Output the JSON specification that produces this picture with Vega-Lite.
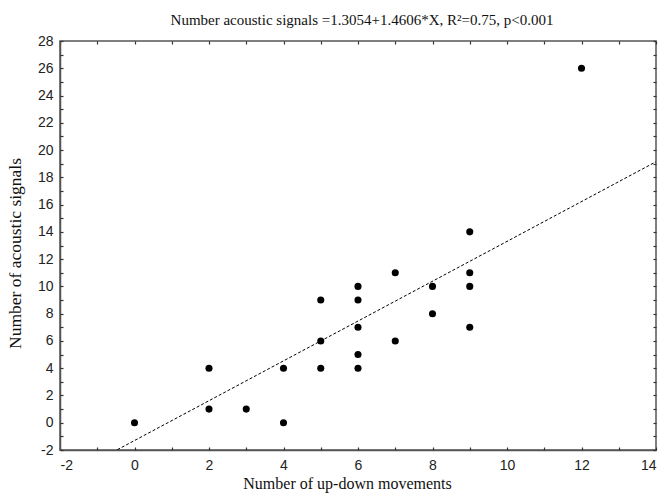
{
  "$schema": "https://vega.github.io/schema/vega-lite/v6.json",
  "width": 596,
  "height": 409,
  "autosize": "none",
  "padding": {"left": 60, "top": 41, "right": 4, "bottom": 46},
  "background": "white",
  "title": {
    "text": "Number acoustic signals =1.3054+1.4606*X, R²=0.75, p<0.001",
    "font": "Liberation Serif",
    "fontSize": 15,
    "fontWeight": "normal",
    "color": "#111",
    "anchor": "middle",
    "dx": 4,
    "offset": 6
  },
  "datasets": {
    "obs": [
      {"moves": 0, "signals": 0},
      {"moves": 2, "signals": 4},
      {"moves": 2, "signals": 1},
      {"moves": 3, "signals": 1},
      {"moves": 4, "signals": 4},
      {"moves": 4, "signals": 0},
      {"moves": 5, "signals": 9},
      {"moves": 5, "signals": 6},
      {"moves": 5, "signals": 4},
      {"moves": 6, "signals": 10},
      {"moves": 6, "signals": 9},
      {"moves": 6, "signals": 7},
      {"moves": 6, "signals": 5},
      {"moves": 6, "signals": 4},
      {"moves": 7, "signals": 11},
      {"moves": 7, "signals": 6},
      {"moves": 8, "signals": 10},
      {"moves": 8, "signals": 8},
      {"moves": 9, "signals": 14},
      {"moves": 9, "signals": 11},
      {"moves": 9, "signals": 10},
      {"moves": 9, "signals": 7},
      {"moves": 12, "signals": 26}
    ],
    "fit": [
      {"moves": -2, "signals": -4.2266},
      {"moves": 14, "signals": 19.143}
    ]
  },
  "config": {
    "view": {"stroke": "#555", "strokeWidth": 1.5},
    "axis": {
      "grid": false,
      "domainColor": "#555",
      "domainWidth": 1.5,
      "tickColor": "#333",
      "tickWidth": 1.2,
      "labelFont": "Liberation Sans",
      "labelFontSize": 14,
      "labelColor": "#222",
      "titleFont": "Liberation Serif",
      "titleFontSize": 17,
      "titleFontWeight": "normal",
      "titleColor": "#111",
      "labelOverlap": false
    }
  },
  "resolve": {"axis": {"x": "independent", "y": "independent"}},
  "layer": [
    {
      "data": {"name": "obs"},
      "mark": {"type": "point", "filled": true, "shape": "circle", "size": 50, "color": "black", "opacity": 1},
      "encoding": {
        "x": {
          "field": "moves", "type": "quantitative",
          "scale": {"domain": [-2, 14], "nice": false, "zero": false},
          "axis": {
            "orient": "bottom",
            "title": "Number of up-down movements",
            "titleFontSize": 16,
            "values": [-2,0,2,4,6,8,10,12,14],
            "labelExpr": "'' + datum.value",
            "ticks": false,
            "labelPadding": 8,
            "titleX": 287,
            "titleY": 38,
            "titleBaseline": "alphabetic"
          }
        },
        "y": {
          "field": "signals", "type": "quantitative",
          "scale": {"domain": [-2, 28], "nice": false, "zero": false},
          "axis": {
            "orient": "left",
            "title": "Number of acoustic signals",
            "titleFontSize": 17.5,
            "values": [-2,0,2,4,6,8,10,12,14,16,18,20,22,24,26,28],
            "labelExpr": "'' + datum.value",
            "ticks": false,
            "labelPadding": 7,
            "titleX": -36,
            "titleY": 212
          }
        }
      }
    },
    {
      "data": {"name": "fit"},
      "mark": {"type": "line", "color": "black", "strokeWidth": 1, "strokeDash": [3, 2], "clip": true},
      "encoding": {
        "x": {
          "field": "moves", "type": "quantitative",
          "scale": {"domain": [-2, 14], "nice": false, "zero": false},
          "axis": {
            "orient": "top",
            "title": null,
            "labels": false,
            "domain": false,
            "offset": -3,
            "tickSize": 3,
            "values": [-2,-1,0,1,2,3,4,5,6,7,8,9,10,11,12,13,14]
          }
        },
        "y": {
          "field": "signals", "type": "quantitative",
          "scale": {"domain": [-2, 28], "nice": false, "zero": false},
          "axis": {
            "orient": "right",
            "title": null,
            "labels": false,
            "domain": false,
            "offset": -3,
            "tickSize": 3,
            "values": [-2,-1,0,1,2,3,4,5,6,7,8,9,10,11,12,13,14,15,16,17,18,19,20,21,22,23,24,25,26,27,28]
          }
        }
      }
    },
    {
      "data": {"name": "obs"},
      "mark": {"type": "point", "opacity": 0},
      "encoding": {
        "x": {
          "field": "moves", "type": "quantitative",
          "scale": {"domain": [-2, 14], "nice": false, "zero": false},
          "axis": {
            "orient": "bottom",
            "title": null,
            "labels": false,
            "domain": false,
            "offset": -3,
            "tickSize": 3,
            "values": [-2,-1,0,1,2,3,4,5,6,7,8,9,10,11,12,13,14]
          }
        },
        "y": {
          "field": "signals", "type": "quantitative",
          "scale": {"domain": [-2, 28], "nice": false, "zero": false},
          "axis": {
            "orient": "left",
            "title": null,
            "labels": false,
            "domain": false,
            "offset": -3,
            "tickSize": 3,
            "values": [-2,-1,0,1,2,3,4,5,6,7,8,9,10,11,12,13,14,15,16,17,18,19,20,21,22,23,24,25,26,27,28]
          }
        }
      }
    }
  ]
}
